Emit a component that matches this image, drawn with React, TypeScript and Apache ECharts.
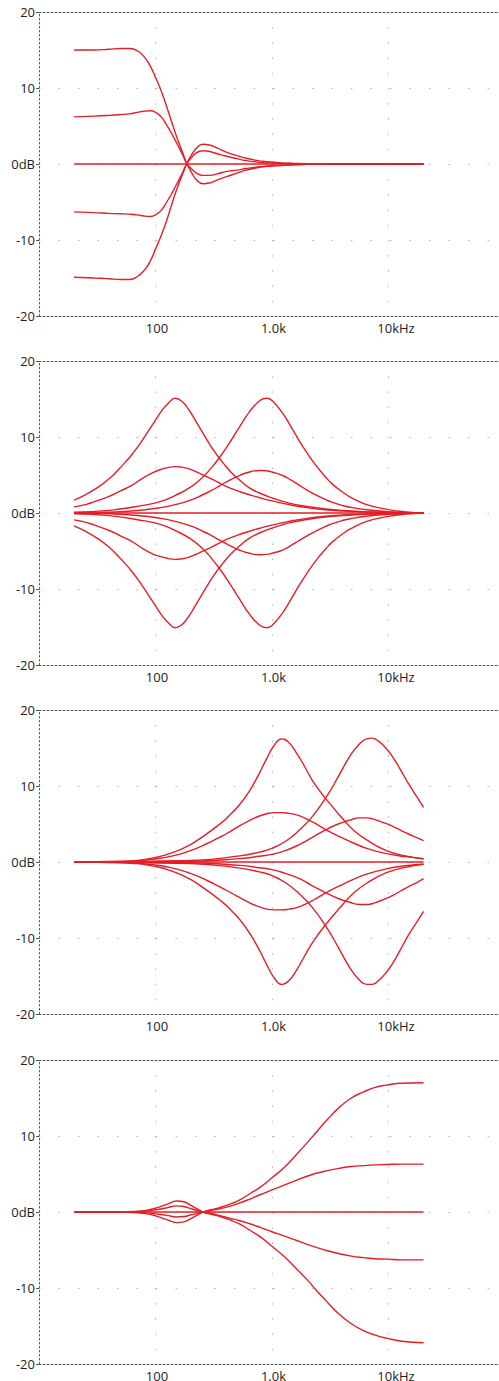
import React, { useEffect, useRef } from "react";
import * as echarts from "echarts";

// ---------- tick labels ----------
const yTickLabels: Record<string, string> = { "20": "20", "10": "10", "0": "0dB", "-10": "-10", "-20": "-20" };
const xTickLabels: Record<string, string> = { "100": "100", "1000": "1.0k", "10000": "10kHz" };

// ---------- flat 0 dB line (all panels) ----------
const flatFreq = [20, 20000];
const flatVals = [0, 0];

// ---------- panel 1 : low shelf ----------
const p1Freq = [20, 30, 40, 50, 60, 70, 80, 90, 100, 112, 125, 140, 155, 170, 185, 200, 225, 255, 290, 340, 400, 500, 600, 750, 900, 1200, 1500, 2000, 3000, 20000];
const p1Boost15 = [15.0, 15.0, 15.1, 15.2, 15.2, 14.9, 14.1, 12.9, 11.4, 9.6, 7.5, 5.2, 3.2, 1.6, 0.1, -0.9, -2.1, -2.6, -2.5, -2.1, -1.7, -1.2, -0.8, -0.5, -0.3, -0.2, -0.1, -0.05, 0, 0];
const p1Boost6 = [6.2, 6.3, 6.4, 6.5, 6.6, 6.8, 6.95, 7.0, 6.8, 6.2, 5.1, 3.8, 2.5, 1.3, 0.1, -0.5, -1.2, -1.5, -1.5, -1.3, -1.0, -0.8, -0.6, -0.4, -0.3, -0.15, -0.1, -0.05, 0, 0];
const p1Cut6 = [-6.3, -6.4, -6.5, -6.55, -6.6, -6.7, -6.85, -6.9, -6.7, -6.1, -5.0, -3.7, -2.4, -1.2, 0, 0.7, 1.5, 1.75, 1.65, 1.35, 1.05, 0.7, 0.45, 0.25, 0.15, 0.08, 0.05, 0.02, 0, 0];
const p1Cut15 = [-14.9, -15.0, -15.1, -15.2, -15.2, -14.8, -14.0, -12.8, -11.2, -9.4, -7.4, -5.0, -3.0, -1.4, 0, 1.0, 2.1, 2.6, 2.5, 2.1, 1.6, 1.1, 0.75, 0.45, 0.3, 0.15, 0.1, 0.05, 0, 0];

// ---------- panel 2 : low-mid bell (~150 Hz) and mid bell (~900 Hz) ----------
const p2LowFreq = [20, 25, 30, 40, 50, 62, 78, 95, 115, 130, 147, 165, 185, 210, 240, 275, 320, 380, 450, 530, 640, 789, 1000, 1400, 2000, 3000, 5000, 10000, 20000];
const p2LowBoost15 = [1.7, 2.4, 3.1, 4.5, 6.0, 7.6, 9.7, 11.7, 13.6, 14.5, 15.1, 14.8, 14.0, 12.7, 11.2, 9.7, 8.1, 6.6, 5.3, 4.3, 3.3, 2.6, 2.0, 1.3, 0.85, 0.5, 0.25, 0.08, 0];
const p2LowBoost6 = [0.8, 1.1, 1.5, 2.2, 2.9, 3.6, 4.6, 5.3, 5.8, 6.0, 6.1, 6.05, 5.9, 5.6, 5.2, 4.8, 4.3, 3.7, 3.2, 2.8, 2.4, 2.0, 1.6, 1.1, 0.7, 0.4, 0.2, 0.07, 0];
const p2LowCut6 = [-0.9, -1.2, -1.6, -2.3, -3.0, -3.7, -4.7, -5.4, -5.8, -6.0, -6.1, -6.05, -5.9, -5.6, -5.2, -4.8, -4.3, -3.7, -3.2, -2.8, -2.4, -2.0, -1.6, -1.1, -0.7, -0.4, -0.2, -0.07, 0];
const p2LowCut15 = [-1.7, -2.4, -3.1, -4.5, -6.0, -7.6, -9.7, -11.7, -13.6, -14.5, -15.1, -14.8, -14.0, -12.7, -11.2, -9.7, -8.1, -6.6, -5.3, -4.3, -3.3, -2.6, -2.0, -1.3, -0.85, -0.5, -0.25, -0.08, 0];
const p2HighFreq = [20, 40, 78, 110, 147, 200, 254, 300, 358, 430, 530, 640, 789, 899, 1000, 1250, 1450, 1700, 2000, 2400, 2900, 3300, 4000, 4700, 6500, 10000, 14000, 20000];
const p2HighBoost15 = [0.1, 0.35, 1.0, 1.5, 2.3, 3.4, 4.7, 5.9, 7.4, 9.2, 11.4, 13.3, 14.8, 15.1, 14.8, 13.0, 11.4, 9.6, 7.9, 6.2, 4.7, 3.8, 2.8, 2.1, 1.1, 0.45, 0.15, 0];
const p2HighBoost6 = [0, 0.1, 0.4, 0.7, 1.1, 1.7, 2.4, 2.95, 3.6, 4.3, 4.95, 5.4, 5.6, 5.55, 5.4, 4.9, 4.35, 3.7, 3.0, 2.35, 1.75, 1.4, 1.0, 0.75, 0.42, 0.18, 0.07, 0];
const p2HighCut6 = [0, -0.1, -0.4, -0.7, -1.1, -1.7, -2.4, -2.95, -3.6, -4.25, -4.9, -5.3, -5.5, -5.45, -5.3, -4.85, -4.3, -3.65, -3.0, -2.35, -1.75, -1.4, -1.0, -0.75, -0.42, -0.18, -0.07, 0];
const p2HighCut15 = [-0.1, -0.35, -1.0, -1.5, -2.3, -3.4, -4.7, -5.9, -7.4, -9.2, -11.4, -13.3, -14.8, -15.1, -14.8, -13.0, -11.4, -9.6, -7.9, -6.2, -4.7, -3.8, -2.8, -2.1, -1.1, -0.45, -0.15, 0];

// ---------- panel 3 : high-mid bell (~1.2 kHz) and presence bell (~7 kHz) ----------
const p3AFreq = [20, 50, 100, 150, 200, 275, 350, 410, 530, 650, 780, 900, 1050, 1210, 1400, 1630, 1900, 2270, 2940, 4100, 5000, 6500, 9600, 14000, 20000];
const p3ABoost16 = [0, 0.1, 0.6, 1.4, 2.3, 3.7, 4.9, 5.8, 7.6, 9.5, 11.7, 13.6, 15.4, 16.2, 15.7, 14.3, 12.6, 10.5, 8.2, 5.6, 4.2, 2.9, 1.5, 0.8, 0.4];
const p3ABoost6 = [0, 0.05, 0.4, 0.9, 1.5, 2.4, 3.2, 3.75, 4.8, 5.5, 6.05, 6.35, 6.5, 6.5, 6.4, 6.2, 5.8, 5.2, 4.2, 3.1, 2.5, 1.8, 1.1, 0.7, 0.45];
const p3ACut6 = [0, -0.05, -0.4, -0.9, -1.5, -2.4, -3.2, -3.75, -4.7, -5.4, -5.9, -6.2, -6.3, -6.3, -6.2, -6.0, -5.6, -5.0, -4.0, -2.9, -2.3, -1.6, -0.9, -0.5, -0.3];
const p3ACut16 = [0, -0.1, -0.6, -1.4, -2.3, -3.7, -4.9, -5.8, -7.6, -9.5, -11.6, -13.5, -15.3, -16.1, -15.6, -14.2, -12.4, -10.4, -8.1, -5.5, -4.1, -2.8, -1.4, -0.7, -0.3];
const p3BFreq = [20, 200, 530, 780, 1000, 1300, 1720, 2200, 2940, 3700, 4650, 5600, 6500, 7200, 8200, 9600, 11000, 12600, 15000, 17500, 20000];
const p3BBoost16 = [0, 0.2, 0.8, 1.3, 1.8, 2.7, 4.2, 5.9, 8.6, 11.2, 13.9, 15.5, 16.2, 16.3, 15.9, 14.9, 13.7, 12.2, 10.2, 8.6, 7.2];
const p3BBoost6 = [0, 0.1, 0.45, 0.75, 1.0, 1.5, 2.3, 3.2, 4.3, 5.0, 5.5, 5.8, 5.8, 5.7, 5.4, 5.05, 4.65, 4.2, 3.65, 3.2, 2.8];
const p3BCut6 = [0, -0.1, -0.45, -0.75, -1.0, -1.5, -2.2, -3.1, -4.1, -4.8, -5.3, -5.6, -5.6, -5.5, -5.2, -4.8, -4.35, -3.85, -3.2, -2.7, -2.2];
const p3BCut16 = [0, -0.2, -0.8, -1.3, -1.8, -2.7, -4.2, -5.9, -8.6, -11.2, -13.9, -15.5, -16.1, -16.1, -15.6, -14.5, -13.2, -11.6, -9.5, -7.9, -6.5];

// ---------- panel 4 : high shelf ----------
const p4Freq = [20, 50, 70, 85, 100, 125, 152, 175, 200, 228, 256, 300, 350, 430, 530, 645, 800, 1000, 1300, 1630, 2000, 2400, 3000, 3800, 4800, 6100, 7700, 9600, 13000, 20000];
const p4Boost17 = [0, 0, -0.1, -0.25, -0.5, -1.0, -1.4, -1.3, -0.9, -0.4, 0, 0.3, 0.55, 1.0, 1.6, 2.4, 3.3, 4.5, 6.0, 7.6, 9.1, 10.5, 12.2, 13.8, 15.0, 15.8, 16.4, 16.7, 16.95, 17.0];
const p4Boost6 = [0, 0, -0.05, -0.12, -0.25, -0.45, -0.66, -0.6, -0.4, -0.18, 0, 0.2, 0.4, 0.75, 1.2, 1.7, 2.3, 2.9, 3.6, 4.2, 4.7, 5.1, 5.45, 5.75, 5.98, 6.1, 6.2, 6.25, 6.3, 6.3];
const p4Cut6 = [0, 0, 0.05, 0.15, 0.3, 0.55, 0.8, 0.72, 0.45, 0.2, 0, -0.2, -0.45, -0.8, -1.15, -1.55, -2.05, -2.6, -3.2, -3.75, -4.25, -4.65, -5.1, -5.5, -5.8, -6.0, -6.15, -6.2, -6.3, -6.3];
const p4Cut17 = [0, 0, 0.1, 0.25, 0.5, 1.0, 1.45, 1.35, 0.9, 0.4, 0, -0.3, -0.55, -1.0, -1.6, -2.4, -3.3, -4.5, -6.0, -7.5, -8.9, -10.3, -11.9, -13.5, -14.7, -15.6, -16.2, -16.6, -17.0, -17.2];

type Curve = { freq: number[]; vals: number[] };
const panels: Curve[][] = [
  [
    { freq: p1Freq, vals: p1Boost15 },
    { freq: p1Freq, vals: p1Boost6 },
    { freq: flatFreq, vals: flatVals },
    { freq: p1Freq, vals: p1Cut6 },
    { freq: p1Freq, vals: p1Cut15 },
  ],
  [
    { freq: p2LowFreq, vals: p2LowBoost15 },
    { freq: p2LowFreq, vals: p2LowBoost6 },
    { freq: p2LowFreq, vals: p2LowCut6 },
    { freq: p2LowFreq, vals: p2LowCut15 },
    { freq: p2HighFreq, vals: p2HighBoost15 },
    { freq: p2HighFreq, vals: p2HighBoost6 },
    { freq: flatFreq, vals: flatVals },
    { freq: p2HighFreq, vals: p2HighCut6 },
    { freq: p2HighFreq, vals: p2HighCut15 },
  ],
  [
    { freq: p3AFreq, vals: p3ABoost16 },
    { freq: p3AFreq, vals: p3ABoost6 },
    { freq: p3AFreq, vals: p3ACut6 },
    { freq: p3AFreq, vals: p3ACut16 },
    { freq: p3BFreq, vals: p3BBoost16 },
    { freq: p3BFreq, vals: p3BBoost6 },
    { freq: flatFreq, vals: flatVals },
    { freq: p3BFreq, vals: p3BCut6 },
    { freq: p3BFreq, vals: p3BCut16 },
  ],
  [
    { freq: p4Freq, vals: p4Boost17 },
    { freq: p4Freq, vals: p4Boost6 },
    { freq: flatFreq, vals: flatVals },
    { freq: p4Freq, vals: p4Cut6 },
    { freq: p4Freq, vals: p4Cut17 },
  ],
];

const panelTops = [12, 361, 710, 1060];
const RED = "#e41e26";
const FONT = "'Open Sans', 'Noto Sans', sans-serif";
const labelText = { color: "#222", fontSize: 13, fontFamily: FONT };

export default function App() {
  const ref = useRef<HTMLDivElement>(null);
  useEffect(() => {
    if (!ref.current) return;
    const chart = echarts.init(ref.current, undefined, { renderer: "svg" });
    const grid: any[] = [];
    const xAxis: any[] = [];
    const yAxis: any[] = [];
    const series: any[] = [];
    panels.forEach((curves, i) => {
      grid.push({ left: 39, top: panelTops[i], width: 466, height: 304, outerBoundsMode: "none", containLabel: false });
      xAxis.push({
        type: "log",
        logBase: 10,
        gridIndex: i,
        min: 10,
        max: 100000,
        position: "bottom",
        axisLine: { show: true, onZero: false, lineStyle: { color: "#555", width: 1, type: [2, 2] } },
        axisTick: { show: false },
        axisLabel: {
          show: true,
          margin: 5,
          ...labelText,
          formatter: (v: number) => {
            const t = xTickLabels[String(Math.round(v))];
            if (!t) return "";
            return t === "10kHz" ? `{b|${t}}` : `{a|${t}}`;
          },
          rich: {
            a: { ...labelText, padding: [0, 0, 0, 3] },
            b: { ...labelText, padding: [0, 0, 0, 15] },
          },
        },
        splitLine: {
          show: true,
          showMinLine: false,
          showMaxLine: false,
          lineStyle: { color: "#b8b8b8", width: 1, type: [1.5, 13.7] },
        },
      });
      xAxis.push({
        type: "log",
        logBase: 10,
        gridIndex: i,
        min: 10,
        max: 100000,
        position: "top",
        axisLine: { show: true, onZero: false, lineStyle: { color: "#555", width: 1, type: [2, 2] } },
        axisTick: { show: false },
        axisLabel: { show: false },
        splitLine: { show: false },
      });
      yAxis.push({
        type: "value",
        gridIndex: i,
        min: -20,
        max: 20,
        interval: 10,
        axisLine: { show: true, onZero: false, lineStyle: { color: "#555", width: 1, type: [1.5, 2.5] } },
        axisTick: { show: true, length: 3, lineStyle: { color: "#555" } },
        axisLabel: {
          show: true,
          margin: 4,
          ...labelText,
          formatter: (v: number) => yTickLabels[String(v)] ?? String(v),
        },
        splitLine: {
          show: true,
          showMinLine: false,
          showMaxLine: false,
          lineStyle: { color: "#b8b8b8", width: 1, type: [1.5, 18] },
        },
      });
      curves.forEach((c) => {
        series.push({
          type: "line",
          xAxisIndex: i * 2,
          yAxisIndex: i,
          data: c.freq.map((f, k) => [f, c.vals[k]]),
          showSymbol: false,
          smooth: 0.5,
          silent: true,
          lineStyle: { color: RED, width: 1.4 },
          itemStyle: { color: RED },
        });
      });
    });
    chart.setOption({
      animation: false,
      backgroundColor: "#ffffff",
      grid,
      xAxis,
      yAxis,
      series,
    });
    return () => chart.dispose();
  }, []);
  return (
    <div
      ref={ref}
      style={{ position: "absolute", left: 0, top: 0, width: 499, height: 1381, background: "#fff" }}
    />
  );
}
